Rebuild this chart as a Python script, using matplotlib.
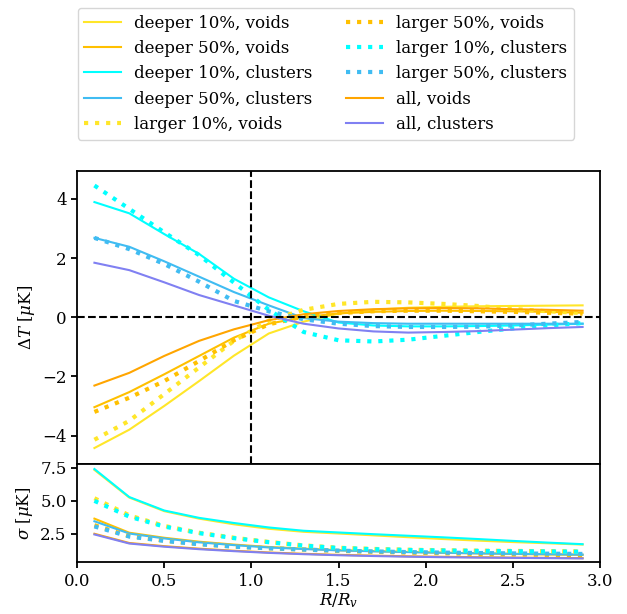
import matplotlib
matplotlib.use("Agg")
import matplotlib.pyplot as plt

plt.rcParams["font.family"] = "DejaVu Serif"
plt.rcParams["mathtext.fontset"] = "dejavuserif"
plt.rcParams["font.size"] = 12
plt.rcParams["axes.linewidth"] = 1.3

# radial bins R/R_v
r = [0.1, 0.3, 0.5, 0.7, 0.9, 1.1, 1.3, 1.5, 1.7, 1.9, 2.1, 2.3, 2.5, 2.7, 2.9]

# mean temperature profiles, Delta T [muK]
dt_deep10_voids = [-4.42, -3.8, -3.0, -2.16, -1.3, -0.55, -0.15, 0.12, 0.25, 0.32, 0.35, 0.37, 0.38, 0.39, 0.4]
dt_deep50_voids = [-3.04, -2.53, -1.93, -1.31, -0.69, -0.22, 0.0, 0.13, 0.18, 0.21, 0.22, 0.21, 0.2, 0.18, 0.15]
dt_deep10_clus = [3.89, 3.51, 2.81, 2.14, 1.3, 0.67, 0.2, -0.18, -0.28, -0.31, -0.31, -0.3, -0.28, -0.25, -0.22]
dt_deep50_clus = [2.68, 2.38, 1.89, 1.37, 0.85, 0.4, -0.03, -0.15, -0.2, -0.22, -0.22, -0.22, -0.22, -0.22, -0.22]
dt_large10_voids = [-4.14, -3.5, -2.6, -1.7, -0.8, -0.12, 0.25, 0.45, 0.52, 0.5, 0.45, 0.38, 0.28, 0.2, 0.14]
dt_large50_voids = [-3.2, -2.72, -2.16, -1.48, -0.78, -0.24, 0.02, 0.14, 0.2, 0.22, 0.22, 0.2, 0.18, 0.15, 0.12]
dt_large10_clus = [4.45, 3.66, 2.87, 2.1, 1.17, 0.25, -0.5, -0.78, -0.82, -0.76, -0.63, -0.5, -0.38, -0.28, -0.2]
dt_large50_clus = [2.68, 2.3, 1.8, 1.2, 0.55, 0.2, -0.07, -0.22, -0.3, -0.33, -0.33, -0.32, -0.28, -0.22, -0.16]
dt_all_voids = [-2.31, -1.88, -1.31, -0.8, -0.41, -0.1, 0.1, 0.21, 0.27, 0.3, 0.31, 0.3, 0.27, 0.25, 0.22]
dt_all_clus = [1.84, 1.59, 1.18, 0.75, 0.4, 0.05, -0.22, -0.38, -0.48, -0.52, -0.5, -0.47, -0.42, -0.37, -0.33]

# scatter, sigma [muK]
sg_deep10_voids = [7.35, 5.25, 4.22, 3.65, 3.22, 2.88, 2.65, 2.52, 2.38, 2.24, 2.1, 1.98, 1.87, 1.78, 1.68]
sg_deep50_voids = [3.65, 2.58, 2.2, 1.9, 1.68, 1.5, 1.37, 1.25, 1.18, 1.12, 1.06, 1.01, 0.97, 0.93, 0.9]
sg_deep10_clus = [7.42, 5.29, 4.27, 3.71, 3.32, 2.98, 2.73, 2.6, 2.47, 2.35, 2.23, 2.1, 1.96, 1.83, 1.71]
sg_deep50_clus = [3.45, 2.52, 2.15, 1.85, 1.64, 1.46, 1.34, 1.24, 1.17, 1.11, 1.06, 1.02, 0.98, 0.95, 0.92]
sg_large10_voids = [5.2, 3.9, 3.1, 2.58, 2.2, 1.88, 1.62, 1.44, 1.35, 1.29, 1.25, 1.22, 1.2, 1.18, 1.16]
sg_large50_voids = [3.15, 2.32, 1.98, 1.72, 1.53, 1.4, 1.3, 1.2, 1.13, 1.07, 1.02, 0.97, 0.93, 0.9, 0.87]
sg_large10_clus = [5.0, 3.8, 3.05, 2.55, 2.17, 1.86, 1.6, 1.42, 1.33, 1.27, 1.23, 1.2, 1.18, 1.16, 1.14]
sg_large50_clus = [3.06, 2.29, 1.96, 1.71, 1.52, 1.4, 1.3, 1.22, 1.16, 1.11, 1.07, 1.04, 1.01, 0.99, 0.97]
sg_all_voids = [2.5, 1.8, 1.56, 1.37, 1.21, 1.08, 0.98, 0.9, 0.84, 0.79, 0.75, 0.72, 0.69, 0.67, 0.65]
sg_all_clus = [2.45, 1.76, 1.52, 1.33, 1.18, 1.05, 0.95, 0.87, 0.81, 0.76, 0.72, 0.69, 0.67, 0.65, 0.63]

labels = ["deeper 10%, voids", "deeper 50%, voids", "deeper 10%, clusters",
          "deeper 50%, clusters", "larger 10%, voids", "larger 50%, voids",
          "larger 10%, clusters", "larger 50%, clusters", "all, voids", "all, clusters"]
colors = ["#ffe629", "#ffc000", "#00ffff", "#40bcf2", "#ffe629", "#ffc000",
          "#00ffff", "#40bcf2", "#ffa500", "#8080f2"]
styles = ["-", "-", "-", "-", ":", ":", ":", ":", "-", "-"]

dt_sets = [dt_deep10_voids, dt_deep50_voids, dt_deep10_clus, dt_deep50_clus,
           dt_large10_voids, dt_large50_voids, dt_large10_clus, dt_large50_clus,
           dt_all_voids, dt_all_clus]
sg_sets = [sg_deep10_voids, sg_deep50_voids, sg_deep10_clus, sg_deep50_clus,
           sg_large10_voids, sg_large50_voids, sg_large10_clus, sg_large50_clus,
           sg_all_voids, sg_all_clus]

fig = plt.figure(figsize=(6.27, 6.14), dpi=100)
ax1 = fig.add_axes([0.1228, 0.2443, 0.8342, 0.4772])
ax2 = fig.add_axes([0.1228, 0.0839, 0.8342, 0.1604], sharex=ax1)

for lab, col, ls, dt, sg in zip(labels, colors, styles, dt_sets, sg_sets):
    lw = 3.0 if ls == ":" else 1.5
    ax1.plot(r, dt, ls, color=col, lw=lw, label=lab)
    ax2.plot(r, sg, ls, color=col, lw=lw)

ax1.axhline(0, color="black", ls="--", lw=1.5)
ax1.axvline(1.0, color="black", ls="--", lw=1.5)

ax1.set_ylim(-4.96, 4.94)
ax1.set_yticks([-4, -2, 0, 2, 4])
ax1.set_ylabel(r"$\Delta T$ [$\mu$K]")
ax1.tick_params(axis="x", bottom=False, labelbottom=False)

ax2.set_xlim(0, 3.0)
ax2.set_ylim(0.32, 7.8)
ax2.set_yticks([2.5, 5.0, 7.5])
ax2.set_xticks([0.0, 0.5, 1.0, 1.5, 2.0, 2.5, 3.0])
ax2.set_ylabel(r"$\sigma$ [$\mu$K]")
ax2.set_xlabel(r"$R/R_v$", labelpad=1)

for ax in (ax1, ax2):
    ax.tick_params(width=1.3, length=4)

fig.align_ylabels([ax1, ax2])

handles, labs = ax1.get_legend_handles_labels()
fig.legend(handles, labs, ncol=2, loc="upper left",
           bbox_to_anchor=(0.124, 0.987), borderaxespad=0,
           handlelength=2.2, columnspacing=2.0)

fig.savefig("out.png", dpi=100)
